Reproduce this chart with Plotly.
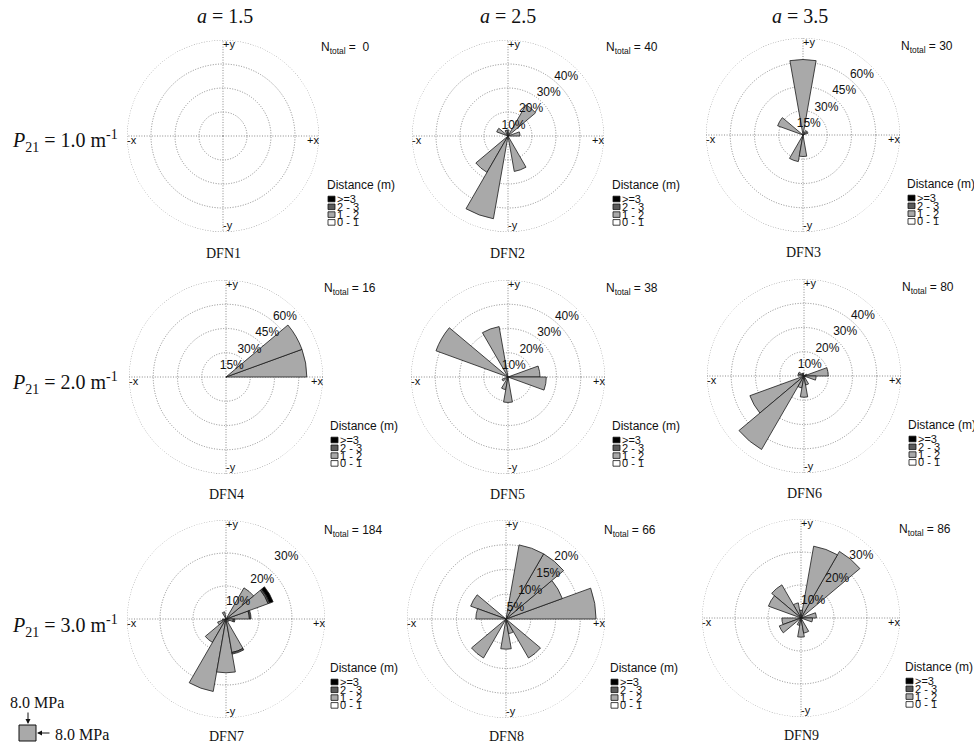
import plotly.graph_objects as go

FIG_W, FIG_H = 974, 748

# 20-degree direction bins (centre angle, counter-clockwise from +x)
BIN_CENTERS = [10, 30, 50, 70, 90, 110, 130, 150, 170, 190, 210, 230, 250, 270, 290, 310, 330, 350]
BIN_WIDTH = 20

# Distance classes (legend order) and fills
DIST_CLASSES = [">=3", "2 - 3", "1 - 2", "0 - 1"]
CLASS_FILLS = ["#000000", "#5a5a5a", "#a9a9a9", "#ffffff"]

# Percentage of fractures per bin, class "1 - 2" m
DFN1_12 = [0, 0, 0, 0, 0, 0, 0, 0, 0, 0, 0, 0, 0, 0, 0, 0, 0, 0]
DFN2_12 = [5.0, 0, 15.0, 0, 2.5, 2.5, 0, 5.0, 0, 0, 0, 17.5, 35.0, 0, 15.0, 0, 0, 0]
DFN3_12 = [0, 3.3, 3.3, 0, 46.7, 0, 0, 16.7, 0, 0, 0, 0, 16.7, 13.3, 0, 0, 0, 0]
DFN4_12 = [50.0, 50.0, 0, 0, 0, 0, 0, 0, 0, 0, 0, 0, 0, 0, 0, 0, 0, 0]
DFN5_12 = [13.2, 0, 0, 0, 0, 21.1, 0, 31.6, 0, 0, 2.6, 0, 5.3, 10.5, 0, 0, 0, 15.8]
DFN6_12 = [10.0, 1.25, 0, 0, 0, 1.25, 1.25, 2.5, 2.5, 0, 23.75, 35.0, 5.0, 8.75, 3.75, 0, 0, 5.0]
DFN7_12 = [7.1, 13.6, 10.9, 0, 0, 2.2, 0, 0, 0, 1.1, 2.7, 8.2, 22.3, 16.3, 10.3, 0, 1.1, 2.2]
DFN8_12 = [18.2, 12.1, 15.2, 15.2, 0, 0, 0, 7.6, 6.1, 0, 0, 9.1, 0, 6.1, 3.0, 9.1, 0, 0]
DFN9_12 = [4.65, 0, 23.3, 22.1, 2.3, 4.65, 11.6, 10.5, 0, 5.8, 7.0, 0, 2.3, 5.8, 4.65, 0, 0, 3.5]

# DFN7 also has fractures in the longer distance classes
DFN7_23 = [0.5, 0.5, 0, 0, 0, 0, 0, 0, 0, 0, 0, 0, 0, 0, 0.5, 0, 0, 0.5]
DFN7_3P = [0, 1.1, 0, 0, 0, 0, 0, 0, 0, 0, 0, 0, 0, 0, 0, 0, 0, 0]

N_TOTAL = [0, 40, 30, 16, 38, 80, 184, 66, 86]
PANEL_NAMES = ["DFN1", "DFN2", "DFN3", "DFN4", "DFN5", "DFN6", "DFN7", "DFN8", "DFN9"]
RADIAL_TICKS = [
    [10, 20, 30, 40], [10, 20, 30, 40], [15, 30, 45, 60],
    [15, 30, 45, 60], [10, 20, 30, 40], [10, 20, 30, 40],
    [10, 20, 30], [5, 10, 15, 20], [10, 20, 30],
]
SHOW_TICK_LABELS = [False, True, True, True, True, True, True, True, True]
COL_HEADERS = ["a = 1.5", "a = 2.5", "a = 3.5"]
ROW_LABELS = ["1.0", "2.0", "3.0"]
AXIS_TEXT = ["+y", "+x", "-x", "-y"]
AXIS_THETA = [90, 0, 180, 270]
STRESS_LABEL = "8.0 MPa"

# panel layout in pixels: centre x, centre y, radius
CENTERS = [
    (223, 136, 96), (508, 136, 96), (803, 135, 97),
    (226, 377, 97), (508, 377, 97), (804, 376, 97),
    (226, 619, 99), (506, 619, 99), (801, 618, 99),
]

SERIES = [
    {"1 - 2": DFN1_12}, {"1 - 2": DFN2_12}, {"1 - 2": DFN3_12},
    {"1 - 2": DFN4_12}, {"1 - 2": DFN5_12}, {"1 - 2": DFN6_12},
    {"1 - 2": DFN7_12, "2 - 3": DFN7_23, ">=3": DFN7_3P},
    {"1 - 2": DFN8_12}, {"1 - 2": DFN9_12},
]

SANS = "Liberation Sans, Arial, sans-serif"
SERIF = "Liberation Serif, Times New Roman, serif"
GRID = "#8a8a8a"
DOTS = "1px,1.6px"
RING_THETA = list(range(0, 361, 2))
TICK_LABEL_ANGLE = 43


def px(x):
    return x / FIG_W


def py(y):
    return 1 - y / FIG_H


fig = go.Figure()
layout = {}
annotations = []
shapes = []

for i in range(9):
    cx, cy, R = CENTERS[i]
    key = "polar" if i == 0 else f"polar{i + 1}"
    ticks = RADIAL_TICKS[i]
    rmax = ticks[-1]

    # dotted outer ring
    fig.add_trace(go.Scatterpolar(
        r=[rmax] * len(RING_THETA), theta=RING_THETA, mode="lines",
        line=dict(color=GRID, width=1, dash=DOTS),
        subplot=key, showlegend=False, hoverinfo="skip", cliponaxis=False,
    ))

    # stacked bars, innermost class first
    for cls in ["0 - 1", "1 - 2", "2 - 3", ">=3"]:
        vals = SERIES[i].get(cls)
        if vals is None:
            continue
        fig.add_trace(go.Barpolar(
            r=vals, theta=BIN_CENTERS, width=BIN_WIDTH,
            marker=dict(color=CLASS_FILLS[DIST_CLASSES.index(cls)],
                        line=dict(color="#1a1a1a", width=0.8)),
            subplot=key, showlegend=False, hoverinfo="skip",
        ))

    # direction labels just inside the outer ring
    fig.add_trace(go.Scatterpolar(
        r=[rmax] * 4, theta=AXIS_THETA, mode="text", text=AXIS_TEXT,
        textposition=["bottom right", "bottom left", "bottom right", "top right"],
        textfont=dict(family=SANS, size=11, color="#111"),
        subplot=key, showlegend=False, hoverinfo="skip", cliponaxis=False,
    ))

    if SHOW_TICK_LABELS[i]:
        fig.add_trace(go.Scatterpolar(
            r=ticks, theta=[TICK_LABEL_ANGLE] * len(ticks), mode="text",
            text=[f"{t}%" for t in ticks], textposition="bottom left",
            textfont=dict(family=SANS, size=12, color="#111"),
            subplot=key, showlegend=False, hoverinfo="skip", cliponaxis=False,
        ))

    layout[key] = dict(
        domain=dict(x=[px(cx - R), px(cx + R)], y=[py(cy + R), py(cy - R)]),
        bgcolor="white",
        barmode="stack",
        radialaxis=dict(range=[0, rmax], tickvals=ticks, showticklabels=False,
                        ticks="", showline=False, showgrid=True,
                        gridcolor=GRID, griddash=DOTS, gridwidth=1),
        angularaxis=dict(rotation=0, direction="counterclockwise",
                         tickvals=[0, 90, 180, 270], showticklabels=False,
                         ticks="", showline=False, showgrid=True,
                         gridcolor=GRID, griddash=DOTS, gridwidth=1),
    )

    # N_total
    n_txt = f"N<sub>total</sub> = {N_TOTAL[i]}" if N_TOTAL[i] >= 10 else \
        f"N<sub>total</sub> = &#160;{N_TOTAL[i]}"
    annotations.append(dict(
        text=n_txt, x=px(cx + 96), y=py(cy - 88), xref="paper", yref="paper",
        xanchor="left", yanchor="middle", showarrow=False,
        font=dict(family=SANS, size=12, color="#111"),
    ))

    # panel name
    annotations.append(dict(
        text=PANEL_NAMES[i], x=px(cx), y=py(cy + 117), xref="paper", yref="paper",
        xanchor="center", yanchor="middle", showarrow=False,
        font=dict(family=SERIF, size=14, color="#111"),
    ))

    # distance legend
    lx = cx + 102
    annotations.append(dict(
        text="Distance (m)", x=px(lx), y=py(cy + 49), xref="paper", yref="paper",
        xanchor="left", yanchor="middle", showarrow=False,
        font=dict(family=SANS, size=12, color="#111"),
    ))
    for k, cls in enumerate(DIST_CLASSES):
        ry = cy + 63 + 7.8 * k
        shapes.append(dict(
            type="rect", xref="paper", yref="paper",
            x0=px(lx + 3), x1=px(lx + 10), y0=py(ry + 2.8), y1=py(ry - 2.8),
            fillcolor=CLASS_FILLS[k], line=dict(color="#111", width=0.8),
        ))
        annotations.append(dict(
            text=cls, x=px(lx + 10), y=py(ry), xref="paper", yref="paper",
            xanchor="left", yanchor="middle", showarrow=False,
            font=dict(family=SANS, size=11, color="#111"),
        ))

# column headers
for j, cx in enumerate([225, 508, 800]):
    name, val = COL_HEADERS[j].split(" = ")
    annotations.append(dict(
        text=f"<i>{name}</i> = {val}", x=px(cx), y=py(16), xref="paper", yref="paper",
        xanchor="center", yanchor="middle", showarrow=False,
        font=dict(family=SERIF, size=20, color="#111"),
    ))

# row labels
for j, cy in enumerate([141, 383, 626]):
    annotations.append(dict(
        text=f"<i>P</i><sub>21</sub> = {ROW_LABELS[j]} m<sup>-1</sup>",
        x=px(10), y=py(cy), xref="paper", yref="paper",
        xanchor="left", yanchor="middle", showarrow=False,
        font=dict(family=SERIF, size=20, color="#111"),
    ))

# far-field stress sketch
annotations.append(dict(
    text=STRESS_LABEL, x=px(8), y=py(702), xref="paper", yref="paper",
    xanchor="left", yanchor="middle", showarrow=False,
    font=dict(family=SERIF, size=16, color="#111"),
))
annotations.append(dict(
    text=STRESS_LABEL, x=px(53), y=py(734), xref="paper", yref="paper",
    xanchor="left", yanchor="middle", showarrow=False,
    font=dict(family=SERIF, size=16, color="#111"),
))
annotations.append(dict(
    text="", x=px(28), y=py(724), xref="paper", yref="paper",
    ax=0, ay=-13, showarrow=True, arrowhead=2, arrowsize=1, arrowwidth=1,
    arrowcolor="#111",
))
annotations.append(dict(
    text="", x=px(37), y=py(733), xref="paper", yref="paper",
    ax=14, ay=0, showarrow=True, arrowhead=2, arrowsize=1, arrowwidth=1,
    arrowcolor="#111",
))
shapes.append(dict(
    type="rect", xref="paper", yref="paper",
    x0=px(19), x1=px(36), y0=py(741), y1=py(725),
    fillcolor="#a9a9a9", line=dict(color="#111", width=1),
))

fig.update_layout(
    width=FIG_W, height=FIG_H,
    margin=dict(l=0, r=0, t=0, b=0),
    paper_bgcolor="white", plot_bgcolor="white",
    showlegend=False,
    annotations=annotations, shapes=shapes,
    **layout,
)

fig.write_html("out.html")
